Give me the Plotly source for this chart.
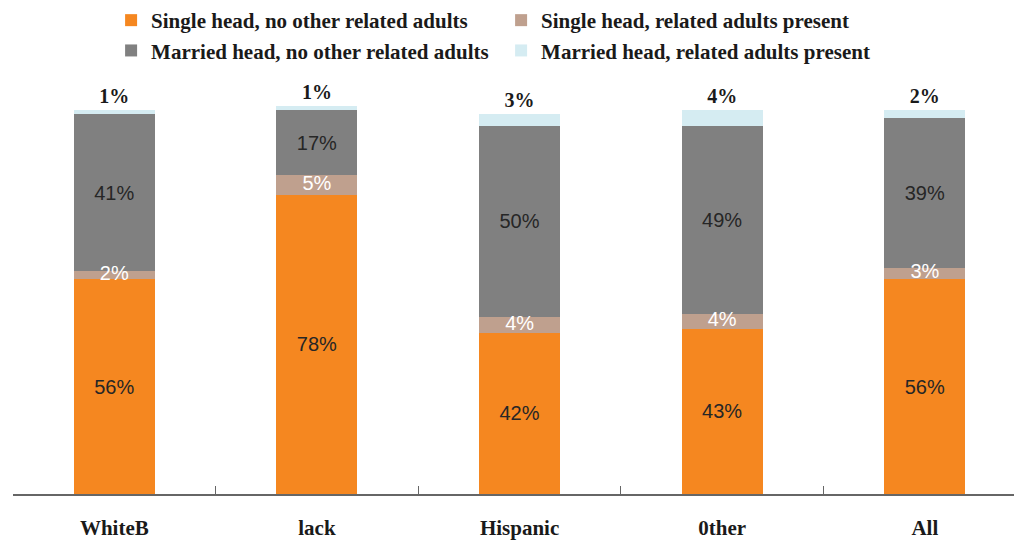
import plotly.graph_objects as go

categories = ["WhiteB", "lack", "Hispanic", "0ther", "All"]

single_no_other = [56, 78, 42, 43, 56]
single_related = [2, 5, 4, 4, 3]
married_no_other = [41, 17, 50, 49, 39]
married_related = [1, 1, 3, 4, 2]

SERIF = "Times New Roman, Liberation Serif, serif"
SANS = "Arial, Liberation Sans, sans-serif"

fig = go.Figure()

fig.add_trace(go.Bar(
    x=categories, y=single_no_other, name="Single head, no other related adults",
    marker=dict(color="#F58720", line=dict(width=0)),
    text=[f"{v}%" for v in single_no_other],
    textposition="inside", insidetextanchor="middle",
    textfont=dict(family=SANS, size=20, color="#262626"),
    textangle=0, hoverinfo="skip",
))
fig.add_trace(go.Bar(
    x=categories, y=single_related, name="Single head, related adults present",
    marker=dict(color="#BFA08E", line=dict(width=0)),
    textposition="none", hoverinfo="skip",
))
fig.add_trace(go.Bar(
    x=categories, y=married_no_other, name="Married head, no other related adults",
    marker=dict(color="#808080", line=dict(width=0)),
    text=[f"{v}%" for v in married_no_other],
    textposition="inside", insidetextanchor="middle",
    textfont=dict(family=SANS, size=20, color="#262626"),
    textangle=0, hoverinfo="skip",
))
fig.add_trace(go.Bar(
    x=categories, y=married_related, name="Married head, related adults present",
    marker=dict(color="#D5ECF2", line=dict(width=0)),
    text=[f"{v}%" for v in married_related],
    textposition="outside",
    outsidetextfont=dict(family=SERIF, size=20, color="#1a1a1a", weight="bold"),
    cliponaxis=False, hoverinfo="skip",
))

# labels for the thin "related adults present" segment, drawn above all bars
mid_related = [a + b / 2 for a, b in zip(single_no_other, single_related)]
fig.add_trace(go.Scatter(
    x=categories, y=mid_related, mode="text",
    text=[f"{v}%" for v in single_related],
    textfont=dict(family=SANS, size=20, color="#FFFFFF"),
    showlegend=False, hoverinfo="skip", cliponaxis=False,
))

fig.update_layout(
    width=1014, height=540,
    barmode="stack", bargap=0.6,
    plot_bgcolor="white", paper_bgcolor="white",
    margin=dict(l=13, r=0, t=91, b=46, autoexpand=False),
    uniformtext=dict(minsize=20, mode="show"),
    showlegend=True,
    legend=dict(
        orientation="h", x=0.098, xanchor="left", y=1.0, yanchor="top",
        yref="container",
        font=dict(family=SERIF, size=21, color="#1a1a1a", weight="bold"),
        entrywidth=345, entrywidthmode="pixels",
        traceorder="normal",
        itemclick=False,
    ),
    xaxis=dict(
        range=[-0.5, 4.44], automargin=False,
        showline=True, linecolor="#666666", linewidth=1.5,
        ticks="inside", tickson="boundaries", ticklen=8, tickcolor="#666666",
        tickfont=dict(family=SERIF, size=21, color="#1a1a1a", weight="bold"),
        ticklabelstandoff=14,
        showgrid=False,
    ),
    yaxis=dict(range=[0, 105], visible=False, showgrid=False, automargin=False),
)

fig.write_html("out.html")
